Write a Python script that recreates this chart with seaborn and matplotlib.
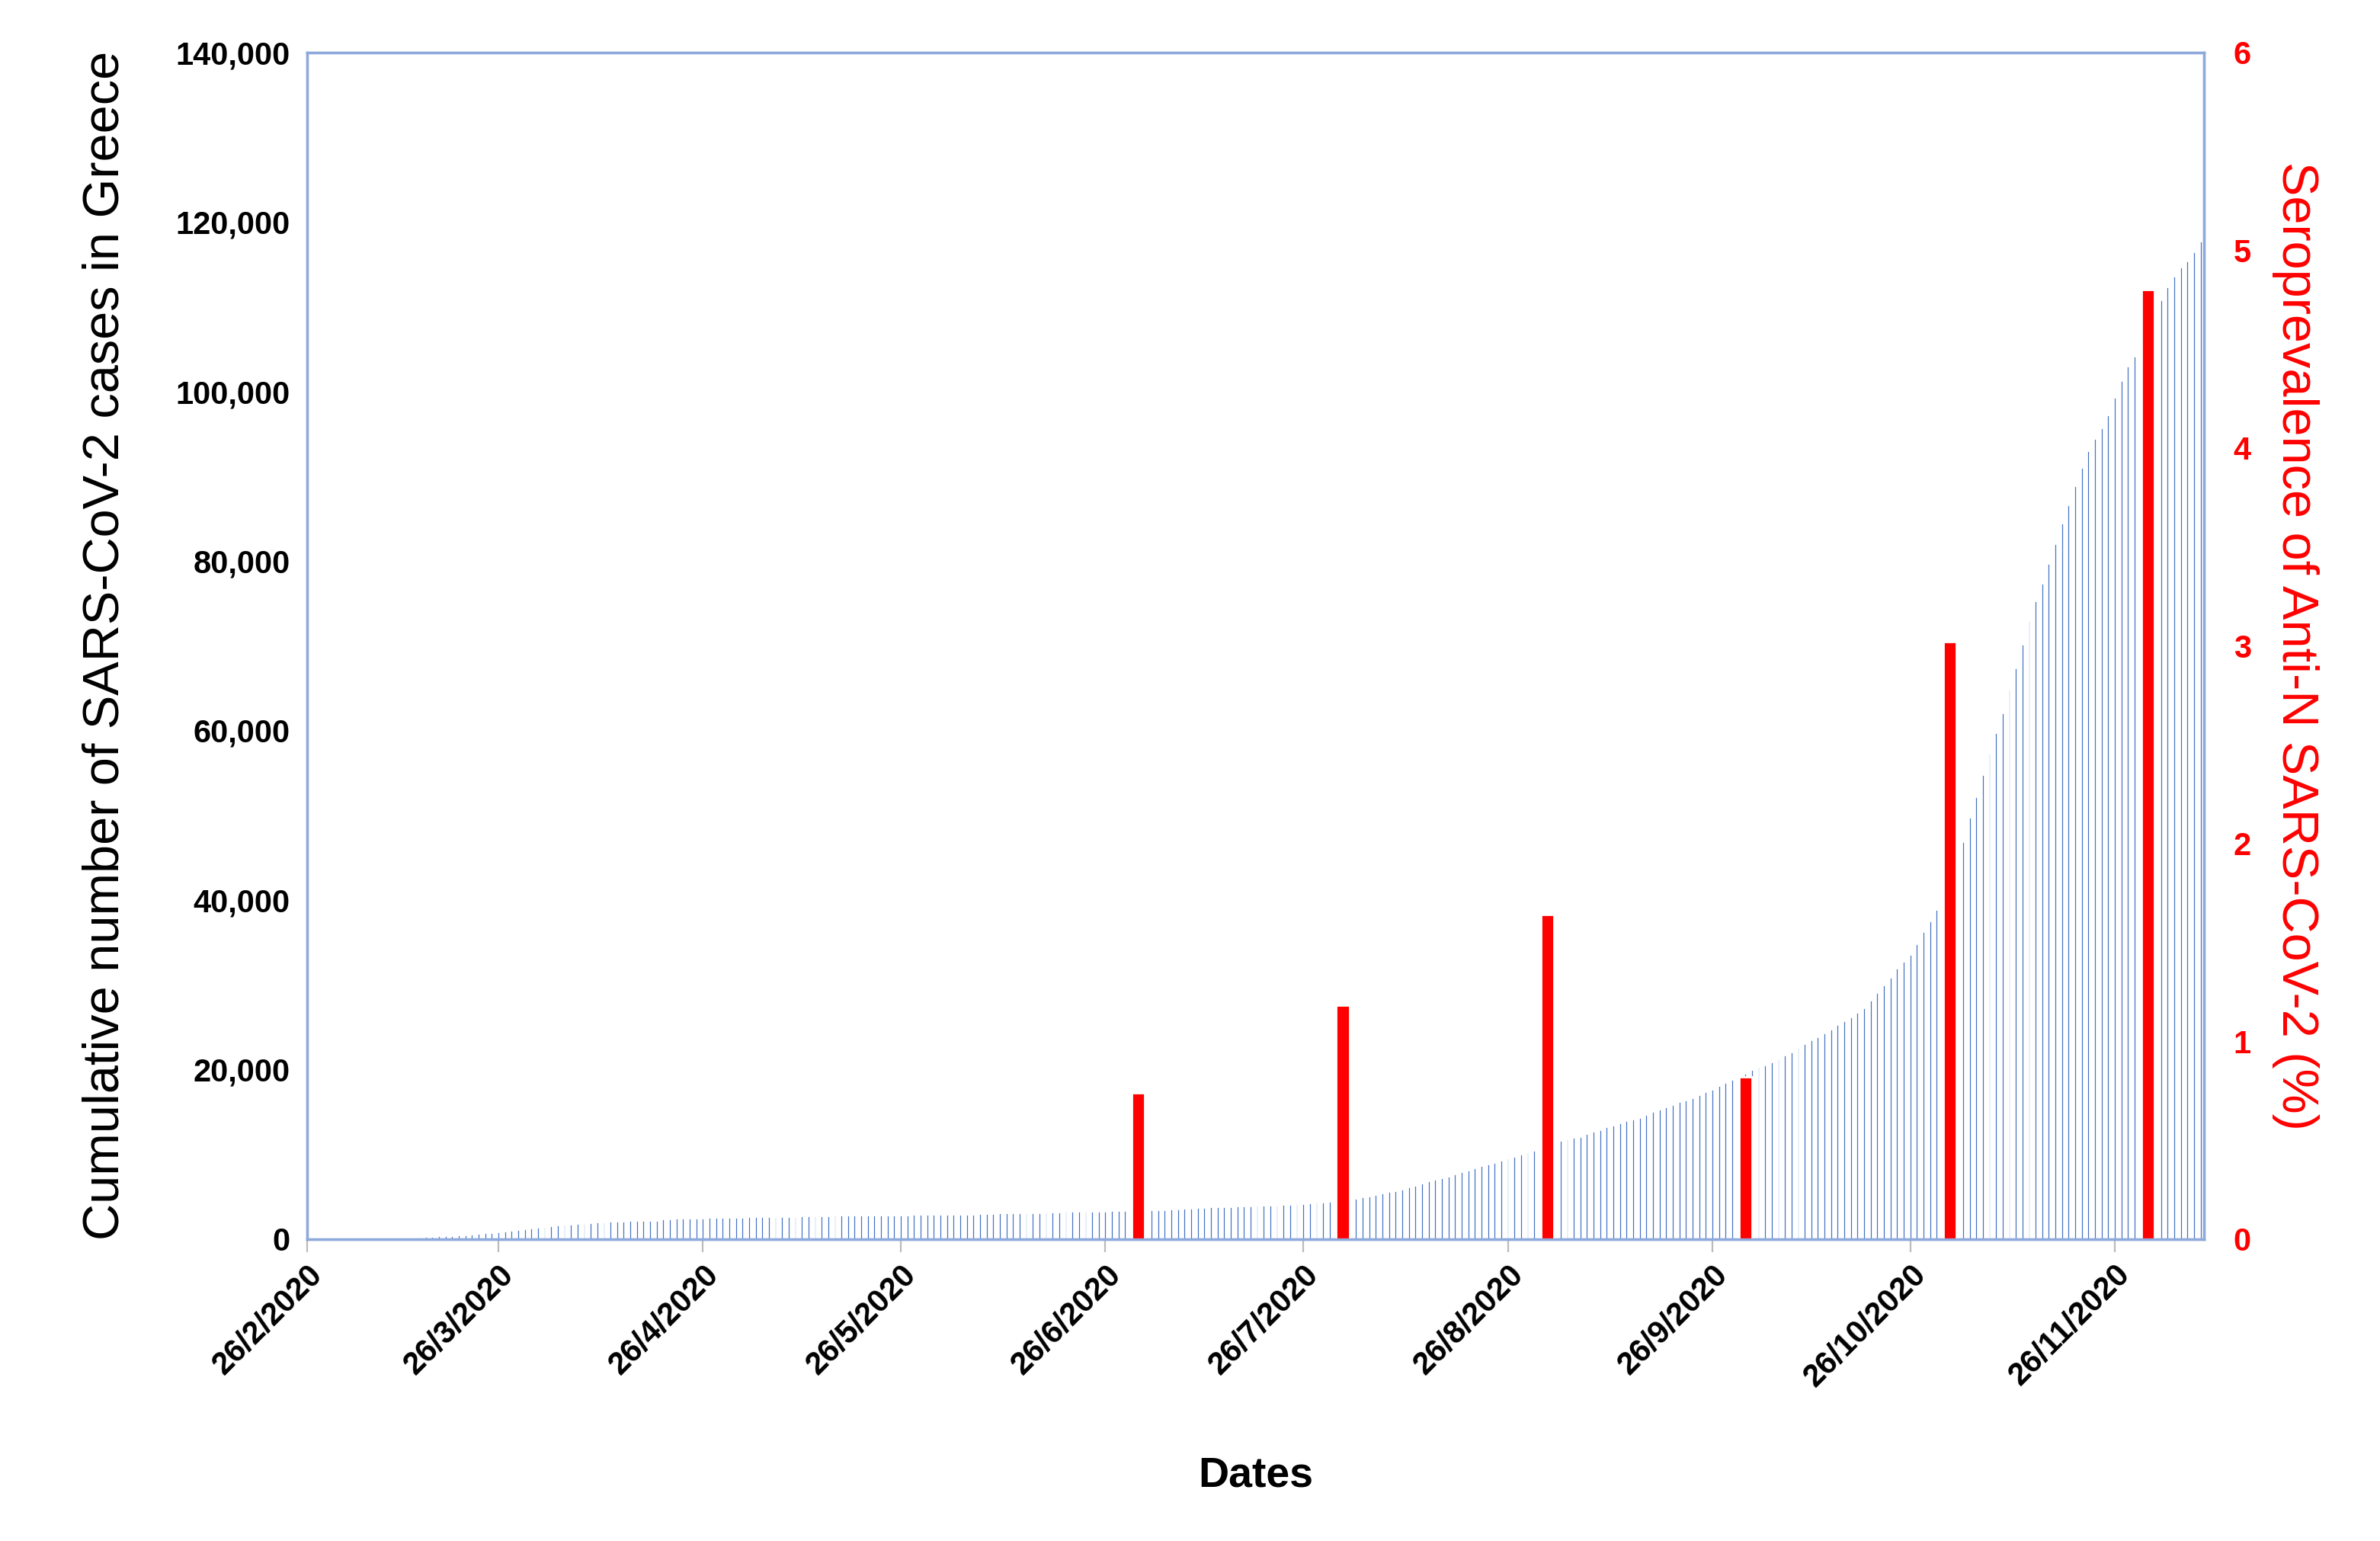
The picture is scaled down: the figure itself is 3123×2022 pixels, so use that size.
import numpy as np
import pandas as pd
import seaborn as sns
import matplotlib.pyplot as plt
from matplotlib.ticker import FuncFormatter

# cumulative cases, daily from 26/2/2020
feb = [3, 4, 7, 7]
mar = [7, 7, 7, 9, 10, 31, 45, 66, 73, 84, 99, 117, 190, 228, 331, 352, 387, 418, 464, 495,
       530, 624, 695, 743, 821, 892, 966, 1061, 1156, 1212, 1314]
apr = [1415, 1544, 1613, 1673, 1735, 1755, 1832, 1884, 1955, 2011, 2081, 2114, 2145, 2170, 2192,
       2207, 2224, 2235, 2245, 2401, 2408, 2463, 2490, 2506, 2517, 2534, 2566, 2576, 2591, 2591]
may = [2612, 2620, 2625, 2626, 2632, 2642, 2663, 2678, 2691, 2710, 2716, 2726, 2744, 2760, 2770,
       2810, 2819, 2834, 2836, 2840, 2850, 2853, 2873, 2876, 2878, 2882, 2892, 2903, 2906, 2909, 2915]
jun = [2917, 2918, 2937, 2952, 2967, 2980, 3049, 3058, 3068, 3088, 3108, 3112, 3121, 3134, 3148,
       3156, 3203, 3227, 3237, 3256, 3266, 3287, 3302, 3310, 3340, 3343, 3366, 3376, 3390, 3409]
jul = [3432, 3458, 3486, 3511, 3519, 3562, 3589, 3622, 3672, 3732, 3772, 3803, 3826, 3854, 3883,
       3910, 3939, 3964, 3983, 4007, 4012, 4048, 4077, 4115, 4193, 4227, 4279, 4336, 4390, 4477, 4587]
aug = [4662, 4737, 4855, 4973, 5123, 5270, 5421, 5623, 5749, 5942, 6177, 6381, 6632, 6858, 7075,
       7222, 7472, 7684, 7953, 8137, 8381, 8664, 8889, 9034, 9280, 9558, 9809, 10075, 10317, 10524, 10757]
sep = [10998, 11386, 11663, 11832, 11999, 12080, 12452, 12734, 12952, 13241, 13474, 13730, 13998,
       14192, 14400, 14738, 15060, 15318, 15595, 15928, 16209, 16435, 16722, 17036, 17402, 17707,
       18099, 18475, 18886, 19153]
oct_ = [19613, 20049, 20370, 20541, 20947, 21299, 21772, 22078, 22652, 23062, 23550, 23860, 24341,
        24828, 25290, 25802, 26268, 26749, 27334, 28216, 29077, 29992, 30924, 31941, 32753, 33565,
        34883, 36307, 37584, 38952, 40929]
nov = [42055, 44107, 46892, 49807, 52254, 54809, 57374, 59726, 62094, 64902, 67443, 70215, 72979,
       75349, 77393, 79771, 82034, 84458, 86632, 88873, 91056, 93006, 94506, 95764, 97288, 99306,
       101287, 103034, 104227, 105837]
dec = [107470, 109057, 110807, 112342, 113597, 114722, 115461, 116513, 117755, 119038]
cases = feb + mar + apr + may + jun + jul + aug + sep + oct_ + nov + dec
dates = pd.date_range("2020-02-26", periods=len(cases), freq="D")

sero_dates = pd.to_datetime(["2020-07-01", "2020-08-01", "2020-09-01",
                             "2020-10-01", "2020-11-01", "2020-12-01"])
sero_values = [0.74, 1.18, 1.64, 0.82, 3.02, 4.80]

tick_dates = pd.to_datetime(["2020-02-26", "2020-03-26", "2020-04-26", "2020-05-26", "2020-06-26",
                             "2020-07-26", "2020-08-26", "2020-09-26", "2020-10-26", "2020-11-26"])
tick_labels = [f"{d.day}/{d.month}/{d.year}" for d in tick_dates]

sns.set_style("white")
plt.rcParams["font.family"] = "Liberation Sans"
fig = plt.figure(figsize=(15.615, 10.11), dpi=200)
ax = fig.add_axes([0.129, 0.196, 0.797, 0.770])
blue = "#4472C4"
ax.bar(dates, cases, width=0.45, color=blue)
ax.set_xlim(pd.Timestamp("2020-02-26"), pd.Timestamp("2020-12-09 12:00"))
ax.set_ylim(0, 140000)
ax.set_yticks(np.arange(0, 140001, 20000))
ax.yaxis.set_major_formatter(FuncFormatter(lambda v, p: f"{int(v):,}"))
ax.set_xticks(tick_dates)
ax.set_xticklabels(tick_labels, rotation=45, ha="right", rotation_mode="anchor",
                   fontsize=15, fontweight="bold", color="black")
ax.tick_params(axis="x", length=6, color="#bbbbbb", direction="out", bottom=True)
for lbl in ax.get_yticklabels():
    lbl.set_fontsize(15)
    lbl.set_fontweight("bold")
    lbl.set_color("black")
ax.tick_params(axis="y", length=0, pad=8)
for s in ax.spines.values():
    s.set_color("#8EA9DB")
    s.set_linewidth(1.2)
ax.set_ylabel("Cumulative number of SARS-CoV-2 cases in Greece", fontsize=24, labelpad=22,
              color="black")
ax.set_xlabel("Dates", fontsize=20, fontweight="bold", labelpad=30, color="black")

ax2 = ax.twinx()
ax2.bar(sero_dates, sero_values, width=2.0, color="red")
ax2.set_ylim(0, 6)
ax2.set_yticks(range(0, 7))
for lbl in ax2.get_yticklabels():
    lbl.set_fontsize(15)
    lbl.set_fontweight("bold")
    lbl.set_color("red")
ax2.tick_params(axis="y", length=0, pad=14)
for s in ax2.spines.values():
    s.set_color("#8EA9DB")
    s.set_linewidth(1.2)
ax2.set_ylabel("Seroprevalence of Anti-N SARS-CoV-2 (%)", fontsize=24, color="red",
               rotation=270, labelpad=32)

fig.savefig("out.png", dpi=200)
